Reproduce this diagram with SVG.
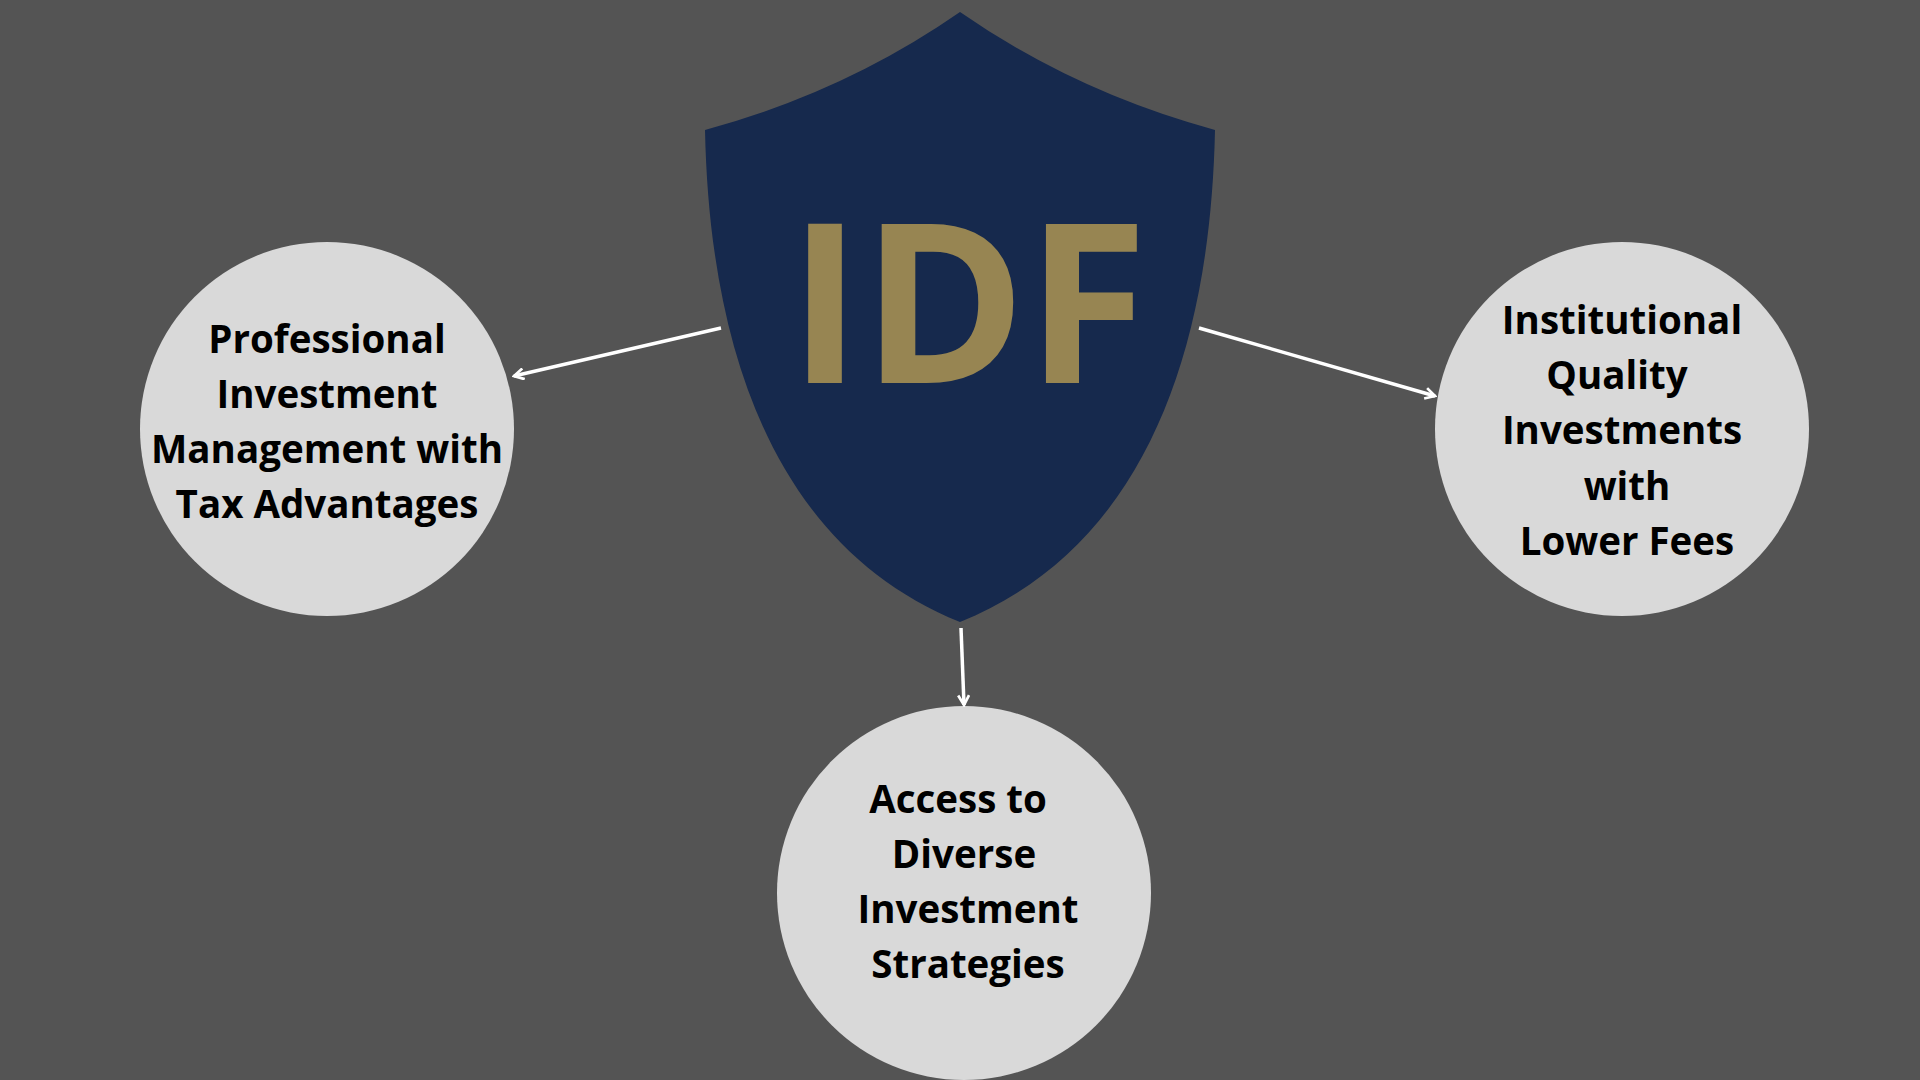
<svg xmlns="http://www.w3.org/2000/svg" width="1920" height="1080" viewBox="0 0 1920 1080">
<style>
.c{fill:#d9d9d9}
.t{font-family:"Open Sans","Liberation Sans",sans-serif;font-weight:bold;font-size:38.5px;fill:#000;text-anchor:middle}
.a{stroke:#fff;stroke-width:3.5;fill:none;marker-end:url(#ah)}
</style>
<defs><marker id="ah" viewBox="0 0 12 12" refX="10" refY="6" markerWidth="13" markerHeight="13" markerUnits="userSpaceOnUse" orient="auto"><path d="M1,1 L10,6 L1,11" fill="none" stroke="#fff" stroke-width="2.5"/></marker></defs>
<rect width="1920" height="1080" fill="#545454"/>
<g id="shield">
<path d="M960,12 Q845,92 705,130 C710,367 784,551 960,622 C1136,551 1210,367 1215,130 Q1075,92 960,12Z" fill="#16294d"/>
<text x="968" y="383" font-family="Open Sans,Liberation Sans,sans-serif" font-weight="bold" font-size="222" fill="#978552" text-anchor="middle">IDF</text>
</g>
<g id="left"><circle class="c" cx="327" cy="429" r="187"/>
<text class="t"><tspan x="327" y="353">Professional</tspan><tspan x="327" y="408">Investment</tspan><tspan x="327" y="463">Management with</tspan><tspan x="327" y="518">Tax Advantages</tspan></text></g>
<g id="right"><circle class="c" cx="1622" cy="429" r="187"/>
<text class="t"><tspan x="1622" y="334">Institutional</tspan><tspan x="1617" y="389">Quality</tspan><tspan x="1622" y="444">Investments</tspan><tspan x="1627" y="500">with</tspan><tspan x="1627" y="555">Lower Fees</tspan></text></g>
<g id="bottom"><circle class="c" cx="964" cy="893" r="187"/>
<text class="t"><tspan x="958" y="813">Access to</tspan><tspan x="964" y="868">Diverse</tspan><tspan x="968" y="923">Investment</tspan><tspan x="968" y="978">Strategies</tspan></text></g>
<g id="connectors">
<line class="a" x1="721" y1="328" x2="514" y2="376"/>
<line class="a" x1="1199" y1="328" x2="1435" y2="396"/>
<line class="a" x1="961" y1="628" x2="964" y2="705"/>
</g>
</svg>
